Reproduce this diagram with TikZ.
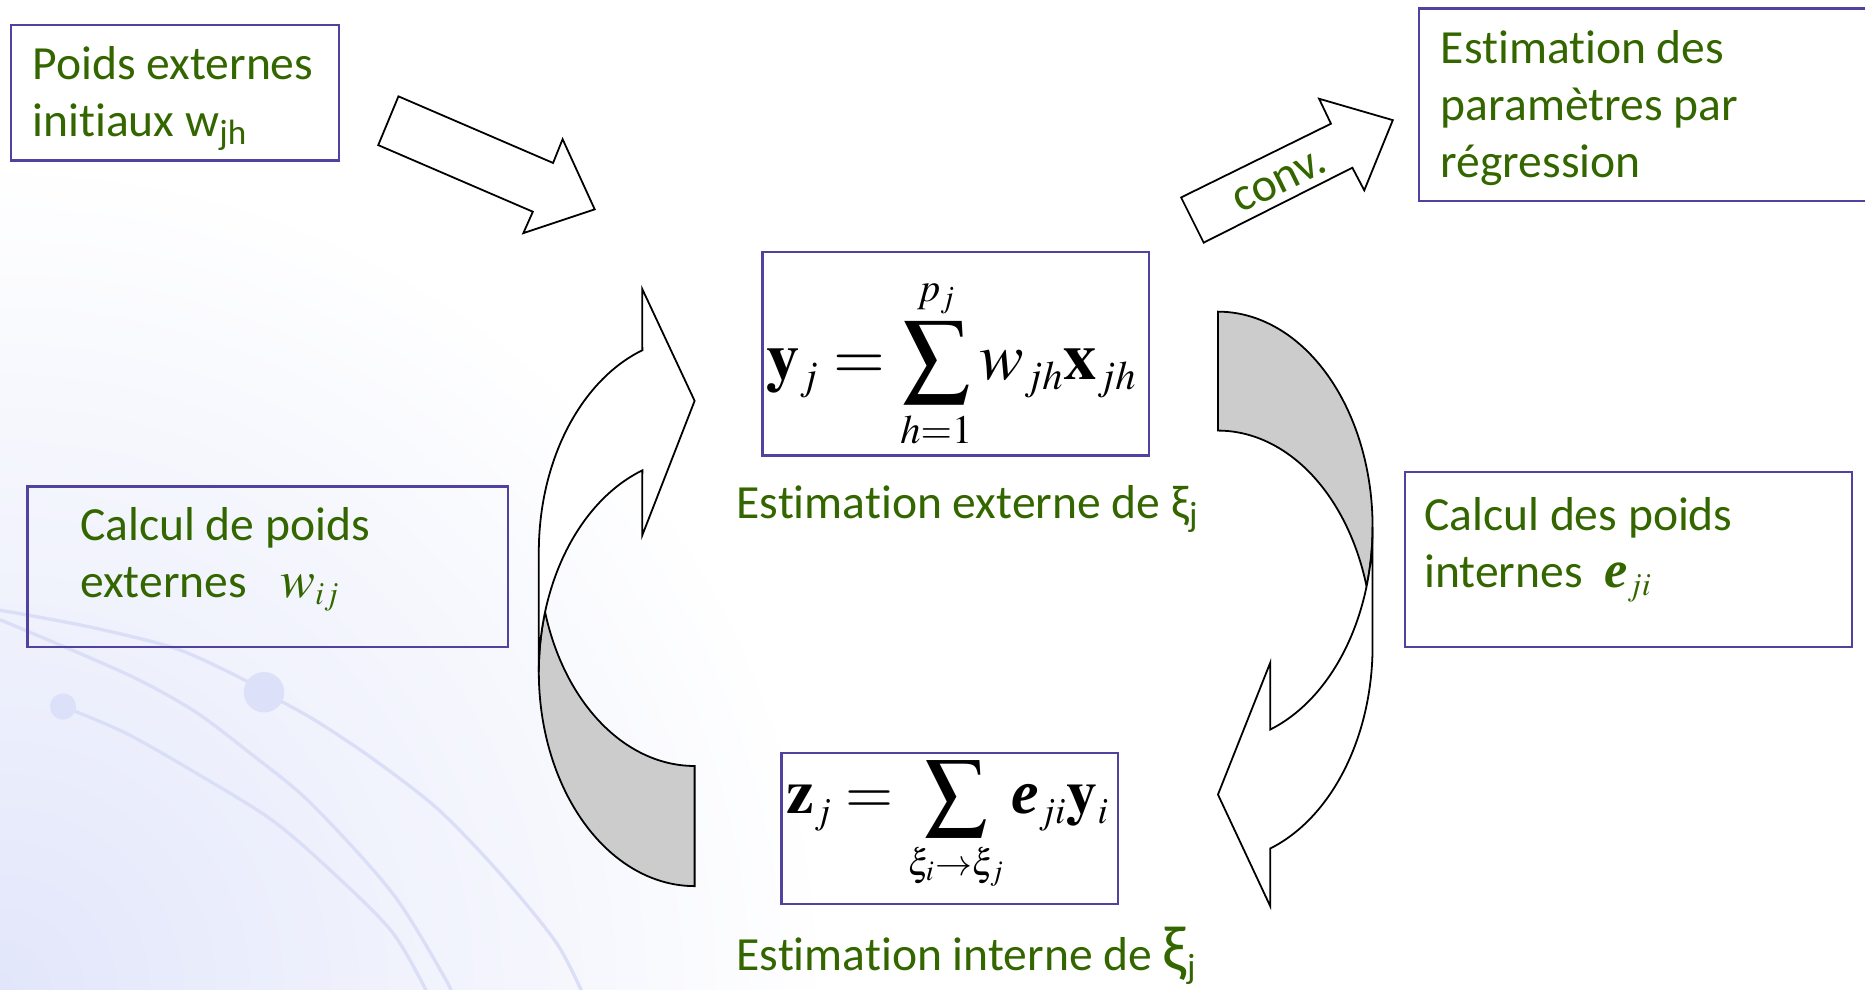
\documentclass[tikz,border=0pt]{standalone}
\usepackage{mathptmx}
\usepackage[no-math]{fontspec}
\setmainfont{Carlito}[Ligatures=NoCommon]
\newfontfamily\tnr{Liberation Serif}
\DeclareMathSizes{28}{28}{17}{13}
\DeclareMathSizes{26}{26}{15.5}{12}
\DeclareMathSizes{22}{22}{13.5}{10}
\definecolor{txtgreen}{RGB}{52,102,0}
\definecolor{boxblue}{RGB}{82,66,160}
\definecolor{bgl}{RGB}{226,230,250}
\definecolor{bgline}{RGB}{218,223,247}
\definecolor{bgball}{RGB}{220,224,248}
\definecolor{backgray}{RGB}{204,204,204}
\newcommand{\bie}{\mbox{\tnr\bfseries\itshape e}}
\begin{document}
\begin{tikzpicture}[x=0.5pt,y=-0.5pt,
  frame/.style={draw=boxblue,line width=1pt,inner sep=0pt},
  label/.style={text=txtgreen,font=\fontsize{20}{24}\selectfont,align=left,inner sep=0pt,anchor=base west},
  caption/.style={text=txtgreen,font=\fontsize{20}{24}\selectfont,inner sep=0pt,anchor=base west},
  blockarrow/.style={draw=black,line width=0.75pt,fill=white,line join=miter},
  backpart/.style={draw=black,line width=0.75pt,fill=backgray},
  formula/.style={inner sep=0pt},
  bgcurve/.style={draw=bgline,line width=1.4pt},
]
\useasboundingbox (0,0) rectangle (1568,832);
\clip (0,0) rectangle (1568,832);
% background decoration
\shade[inner color=bgl,outer color=white] (0,832) circle (700);
\draw[bgcurve] plot[smooth] coordinates {(0,513) (75,527) (150,546) (210,574)};
\draw[bgcurve] plot[smooth] coordinates {(0,521) (105,566) (162,597) (210,633) (261,675) (330,751) (375,824) (381,840)};
\draw[bgcurve] plot[smooth] coordinates {(53,594) (105,616) (165,650) (228,689) (277,731) (330,784) (362,840)};
\draw[bgcurve] plot[smooth] coordinates {(222,582) (264,605) (315,639) (369,681) (420,734) (468,793) (492,840)};
\fill[bgball] (53,594) circle (11);
\fill[bgball] (222,582) circle (17);

% boxes
\node[frame,minimum width=138pt,minimum height=57pt] (boxinit) at (147,78) {};
\node[frame,minimum width=193.5pt,minimum height=81pt] (boxreg) at (1386.5,88) {};
\node[frame,minimum width=202pt,minimum height=67.5pt] (boxext) at (225,476.5) {};
\node[frame,minimum width=188pt,minimum height=73.5pt] (boxint) at (1369,470.5) {};
\node[frame,minimum width=162.5pt,minimum height=85.5pt] (boxy) at (803.5,297.5) {};
\node[frame,minimum width=141.5pt,minimum height=63.5pt] (boxz) at (798.5,696.5) {};

% texts (anchor = baseline of the last line)
\node[label] (tinit) at (27,115) {Poids externes\\initiaux w\textsubscript{jh}};
\node[label] (treg) at (1211,149) {Estimation des\\paramètres par\\régression};
\node[label] (text) at (67,502) {Calcul de poids\\externes\hspace{14pt}{\fontsize{22}{24}\selectfont$w_{ij}$}};
\node[label] (tint) at (1197,494) {Calcul des poids\\internes\hspace{9pt}{\fontsize{22}{24}\selectfont$\bie_{ji}$}};
\node[caption] (capext) at (619,436) {Estimation externe de ξ\textsubscript{j}};
\node[caption] (capint) at (619,816) {Estimation interne de {\fontsize{27}{24}\selectfont ξ}\textsubscript{j}};

% formulas
\node[formula,font=\fontsize{28}{30}\selectfont] (fy) at (800,306) {$\displaystyle \mathbf{y}_j = \sum_{h=1}^{p_j} w_{jh}\mathbf{x}_{jh}$};
\node[formula,font=\fontsize{26}{30}\selectfont] (fz) at (797,695) {$\displaystyle \mathbf{z}_j = \sum_{\xi_i\to\xi_j} \bie_{ji}\mathbf{y}_i$};

% straight block arrows
\draw[blockarrow] (335,81) -- (465,137) -- (473,117) -- (500,176) -- (440,196) -- (448,178) -- (318,122) -- cycle;
\draw[blockarrow] (993,166) -- (1119,104) -- (1109,83) -- (1171,101) -- (1147,160) -- (1137,141) -- (1012,204) -- cycle;
\node[text=txtgreen,font=\fontsize{20}{24}\selectfont,rotate=26,inner sep=0pt] (conv) at (1076,153) {conv.};

% left curved arrow (head up, pointing right)
\draw[backpart] plot[domain=90:196.3,samples=60] ({584+131*cos(\x)},{565+180*sin(\x)})
  -- plot[domain=163.7:90,samples=60] ({584+131*cos(\x)},{464+180*sin(\x)}) -- cycle;
\draw[blockarrow] plot[domain=180:250.4,samples=60] ({584+131*cos(\x)},{565+180*sin(\x)})
  -- (540,450) -- (584,337) -- (540,243)
  -- plot[domain=250.4:180,samples=60] ({584+131*cos(\x)},{464+180*sin(\x)}) -- cycle;

% right curved arrow (head down, pointing left)
\draw[backpart] plot[domain=-90:16.03,samples=60] ({1024+130*cos(\x)},{443+181*sin(\x)})
  -- plot[domain=-16.03:-90,samples=60] ({1024+130*cos(\x)},{543+181*sin(\x)}) -- cycle;
\draw[blockarrow] plot[domain=0:70.2,samples=60] ({1024+130*cos(\x)},{443+181*sin(\x)})
  -- (1068,557) -- (1024,668) -- (1068,762)
  -- plot[domain=70.2:0,samples=60] ({1024+130*cos(\x)},{543+181*sin(\x)}) -- cycle;
\end{tikzpicture}
\end{document}
